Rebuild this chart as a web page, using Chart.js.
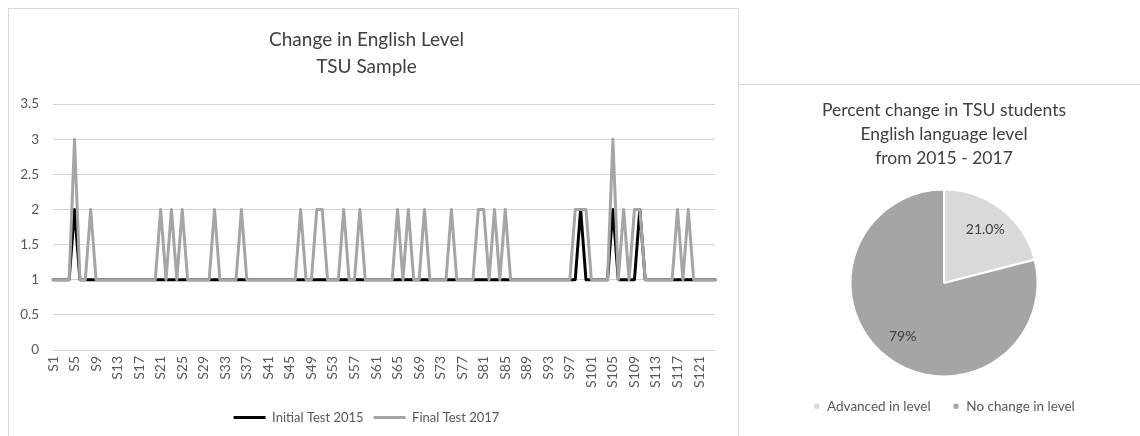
<!DOCTYPE html>
<html>
<head>
<meta charset="utf-8">
<script src="https://cdn.jsdelivr.net/npm/chart.js@4.4.0/dist/chart.umd.min.js"></script>
<style>
  html, body { margin: 0; padding: 0; background: #fff; width: 1140px; height: 436px; overflow: hidden; }
  #leftBox { position: absolute; left: 8px; top: 8px; width: 729px; height: 440px; border: 1px solid #d9d9d9; background: #fff; }
  #rightBox { position: absolute; left: 738px; top: 84px; width: 410px; height: 360px; border-top: 1px solid #d9d9d9; border-left: 1px solid #d9d9d9; background: #fff; }
  #lineCanvas { position: absolute; left: 0; top: 0; }
  #pieCanvas { position: absolute; left: 1px; top: 0; }
</style>
</head>
<body>
<div id="leftBox"><canvas id="lineCanvas" width="729" height="425"></canvas></div>
<div id="rightBox"><canvas id="pieCanvas" width="400" height="338"></canvas></div>
<script>
// ---------- data ----------
const lineTitle = ['Change in English Level', 'TSU Sample'];
const seriesNames = ['Initial Test 2015', 'Final Test 2017'];
const studentCount = 124;
const students = [];
for (let i = 1; i <= studentCount; i++) students.push('S' + i);

const initialTest2015 = [
  1,1,1,1,2,1,1,1,1,1,
  1,1,1,1,1,1,1,1,1,1,
  1,1,1,1,1,1,1,1,1,1,
  1,1,1,1,1,1,1,1,1,1,
  1,1,1,1,1,1,1,1,1,1,
  1,1,1,1,1,1,1,1,1,1,
  1,1,1,1,1,1,1,1,1,1,
  1,1,1,1,1,1,1,1,1,1,
  1,1,1,1,1,1,1,1,1,1,
  1,1,1,1,1,1,1,1,2,1,
  1,1,1,1,2,1,1,1,1,2,
  1,1,1,1,1,1,1,1,1,1,
  1,1,1,1
];
const finalTest2017 = [
  1,1,1,1,3,1,1,2,1,1,
  1,1,1,1,1,1,1,1,1,1,
  2,1,2,1,2,1,1,1,1,1,
  2,1,1,1,1,2,1,1,1,1,
  1,1,1,1,1,1,2,1,1,2,
  2,1,1,1,2,1,1,2,1,1,
  1,1,1,1,2,1,2,1,1,2,
  1,1,1,1,2,1,1,1,1,2,
  2,1,2,1,2,1,1,1,1,1,
  1,1,1,1,1,1,1,2,2,2,
  1,1,1,1,3,1,2,1,2,2,
  1,1,1,1,1,1,2,1,2,1,
  1,1,1,1
];
const yTicks = [0, 0.5, 1, 1.5, 2, 2.5, 3, 3.5];

const pieTitle = ['Percent change in TSU students', 'English language level', 'from 2015 - 2017'];
const pieCategories = ['Advanced in level', 'No change in level'];
const pieValues = [21, 79];
const pieLabels = ['21.0%', '79%'];

// ---------- styles ----------
const FONT = 'Lato, "Open Sans", "Noto Sans", sans-serif';
const TEXT = '#595959';
const GRID = '#d4d4d4';

// ---------- line chart ----------
new Chart(document.getElementById('lineCanvas'), {
  type: 'line',
  data: {
    labels: students,
    datasets: [
      { label: seriesNames[0], data: initialTest2015, borderColor: '#000000', backgroundColor: '#000000',
        borderWidth: 3, pointRadius: 0, tension: 0, order: 1, pointStyle: 'line',
        borderJoinStyle: 'round', borderCapStyle: 'round' },
      { label: seriesNames[1], data: finalTest2017, borderColor: '#a5a5a5', backgroundColor: '#a5a5a5',
        borderWidth: 3, pointRadius: 0, tension: 0, order: 0, pointStyle: 'line',
        borderJoinStyle: 'round', borderCapStyle: 'round' }
    ]
  },
  options: {
    responsive: false,
    animation: false,
    layout: { padding: { left: 0, right: 14, top: 0, bottom: 0 } },
    plugins: {
      title: { display: true, text: lineTitle, color: '#404040',
        font: { family: FONT, size: 19, weight: 'normal', lineHeight: 1.45 },
        padding: { top: 17, bottom: 23 } },
      legend: { position: 'bottom',
        labels: { usePointStyle: true, pointStyleWidth: 32, color: TEXT, padding: 10,
          font: { family: FONT, size: 13 },
          sort: (a, b) => a.datasetIndex - b.datasetIndex } },
      tooltip: { enabled: false }
    },
    scales: {
      x: {
        grid: { display: false, drawTicks: false },
        border: { display: false },
        ticks: { autoSkip: false, maxRotation: 90, minRotation: 90, padding: 6, color: TEXT,
          font: { family: FONT, size: 14 },
          callback: function (v, i) { return i % 4 === 0 ? students[i] : ''; } },
        afterFit: function (axis) { axis.height = 51; }
      },
      y: {
        min: 0, max: 3.5,
        afterBuildTicks: function (axis) { axis.ticks = yTicks.map(v => ({ value: v })); },
        grid: { color: GRID, lineWidth: 1, drawTicks: false },
        border: { display: false },
        ticks: { padding: 14, color: TEXT, font: { family: FONT, size: 13.5 },
          callback: function (v) { return String(v); } },
        afterFit: function (axis) { axis.width = 44; }
      }
    }
  }
});

// ---------- pie chart ----------
const pieLabelPlugin = {
  id: 'pieLabels',
  afterDatasetsDraw(chart) {
    const ctx = chart.ctx;
    const meta = chart.getDatasetMeta(0);
    ctx.save();
    ctx.font = '14px ' + FONT;
    ctx.fillStyle = '#404040';
    ctx.textAlign = 'center';
    ctx.textBaseline = 'middle';
    meta.data.forEach((arc, i) => {
      const a = (arc.startAngle + arc.endAngle) / 2;
      const r = arc.outerRadius * 0.72;
      ctx.fillText(pieLabels[i], arc.x + Math.cos(a) * r, arc.y + Math.sin(a) * r);
    });
    ctx.restore();
  }
};

new Chart(document.getElementById('pieCanvas'), {
  type: 'pie',
  data: {
    labels: pieCategories,
    datasets: [{ data: pieValues, backgroundColor: ['#d9d9d9', '#a5a5a5'],
      borderColor: '#ffffff', borderWidth: 2, hoverOffset: 0 }]
  },
  options: {
    responsive: false,
    animation: false,
    layout: { padding: { left: 8, right: 0, top: 0, bottom: 0 } },
    plugins: {
      title: { display: true, text: pieTitle, color: '#404040',
        font: { family: FONT, size: 17.5, weight: 'normal', lineHeight: 1.38 },
        padding: { top: 13, bottom: 18 } },
      legend: { position: 'bottom',
        labels: { boxWidth: 7, boxHeight: 7, padding: 22, color: TEXT,
          font: { family: FONT, size: 13.5 } } },
      tooltip: { enabled: false }
    }
  },
  plugins: [pieLabelPlugin]
});
</script>
</body>
</html>
